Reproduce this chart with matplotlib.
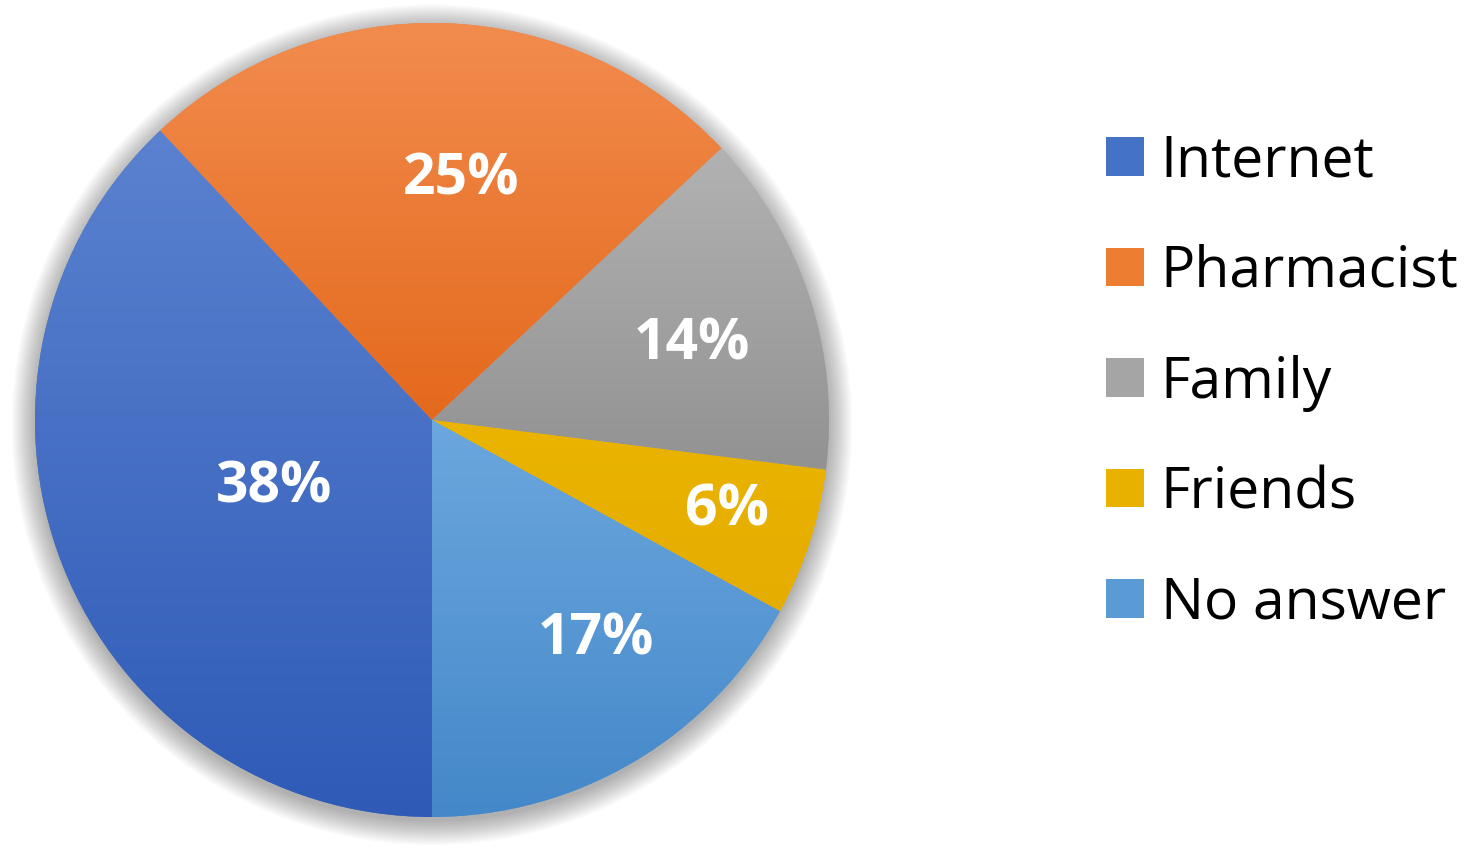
import numpy as np
import matplotlib
matplotlib.use("Agg")
import matplotlib.pyplot as plt
from matplotlib.patches import Circle, Patch
from matplotlib.colors import to_rgb

# ---- data ----
categories = ["Internet", "Pharmacist", "Family", "Friends", "No answer"]
shares = [38, 25, 14, 6, 17]
pct_labels = ["38%", "25%", "14%", "6%", "17%"]

# ---- style ----
base_colors = ["#4472C4", "#ED7D31", "#A5A5A5", "#E8B100", "#5B9BD5"]
top_colors = ["#5B82D0", "#F28C4E", "#B2B2B2", "#EAB400", "#6CA7DE"]
bottom_colors = ["#2F5BB7", "#E4691C", "#929292", "#E5AD00", "#4488C9"]
label_r = [0.433, 0.611, 0.682, 0.777, 0.691]
label_dang = [1.6, -5.1, -1.7, 0.9, 6.1]

FONT = "Open Sans"

fig = plt.figure(figsize=(14.75, 8.61), dpi=100)
cx, cy, R = 432, 420, 397
W, H = 1475, 861
ax = fig.add_axes([(cx - R) / W, (H - cy - R) / H, 2 * R / W, 2 * R / H])

# soft shadow halo
for i in range(14):
    ax.add_patch(Circle((0.0, -0.012), 1.0 + 0.0045 * i, facecolor="black",
                        edgecolor="none", alpha=0.022, zorder=0, clip_on=False))

wedges, _ = ax.pie(shares, colors=base_colors, startangle=270, counterclock=False,
                   radius=1.0, wedgeprops=dict(linewidth=0, zorder=1))

for w, ct, cb in zip(wedges, top_colors, bottom_colors):
    ext = w.get_path().get_extents()
    n = 256
    t = np.linspace(0, 1, n)[:, None]
    c0 = np.array(to_rgb(ct)); c1 = np.array(to_rgb(cb))
    grad = (1 - t)[:, :, None] * c0[None, None, :] + t[:, :, None] * c1[None, None, :]
    grad = np.repeat(grad, 2, axis=1)
    im = ax.imshow(grad, extent=(ext.x0, ext.x1, ext.y0, ext.y1), origin="upper",
                   aspect="auto", interpolation="bilinear", zorder=2)
    im.set_clip_path(w)

for w, lab, rr, da in zip(wedges, pct_labels, label_r, label_dang):
    mid = np.deg2rad((w.theta1 + w.theta2) / 2 + da)
    ax.text(rr * np.cos(mid), rr * np.sin(mid), lab, ha="center", va="center",
            color="white", fontsize=41, fontweight="bold", family=FONT, zorder=5)

ax.set_xlim(-1, 1)
ax.set_ylim(-1, 1)
ax.set_aspect("auto")
ax.axis("off")

handles = [Patch(facecolor=c, edgecolor="none") for c in base_colors]
leg = fig.legend(handles, categories, loc="center left",
                 bbox_to_anchor=(1106 / W, 1 - 383 / H), frameon=False,
                 prop=dict(family=FONT, size=41), handlelength=0.66, handleheight=0.66,
                 handletextpad=0.3, labelspacing=0.94, borderaxespad=0, borderpad=0)

fig.savefig("out.png", dpi=100, facecolor="white")
